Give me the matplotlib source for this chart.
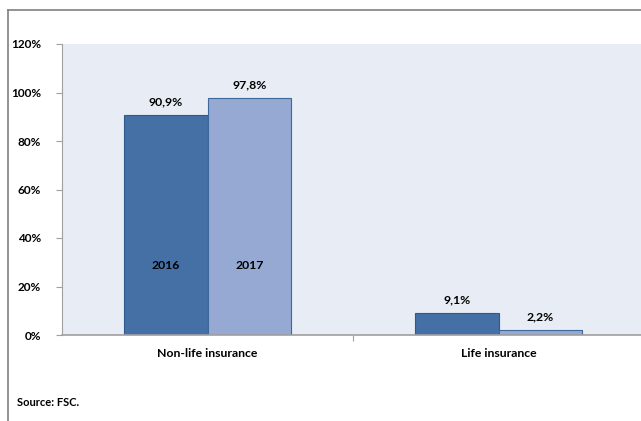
import matplotlib.pyplot as plt
from matplotlib.lines import Line2D

categories = ["Non-life insurance", "Life insurance"]
years = ["2016", "2017"]
values_2016 = [90.9, 9.1]
values_2017 = [97.8, 2.2]
labels_2016 = ["90,9%", "9,1%"]
labels_2017 = ["97,8%", "2,2%"]
yticks = [0, 20, 40, 60, 80, 100, 120]

plt.rcParams['font.family'] = ['Lato', 'DejaVu Sans']
plt.rcParams['font.weight'] = 'bold'

fig = plt.figure(figsize=(6.41, 4.21), dpi=100)
ax = fig.add_axes([62/641, 1 - 335/421, 1 - 62/641, 291/421])
ax.set_facecolor('#E8ECF4')

w = 0.287
x = range(len(categories))
b1 = ax.bar([i - w/2 for i in x], values_2016, w, color='#4470A5', edgecolor='#2E5A8E', linewidth=0.8)
b2 = ax.bar([i + w/2 for i in x], values_2017, w, color='#95A9D2', edgecolor='#3E679C', linewidth=0.8)

for r, t in zip(b1, labels_2016):
    ax.text(r.get_x() + r.get_width()/2, r.get_height() + 3, t, ha='center', va='bottom', fontsize=8.8, fontweight='bold')
for r, t in zip(b2, labels_2017):
    ax.text(r.get_x() + r.get_width()/2, r.get_height() + 3, t, ha='center', va='bottom', fontsize=8.8, fontweight='bold')

# year labels inside the first group
ax.text(b1[0].get_x() + w/2, 28.5, years[0], ha='center', va='center', fontsize=8.8, fontweight='bold')
ax.text(b2[0].get_x() + w/2, 28.5, years[1], ha='center', va='center', fontsize=8.8, fontweight='bold')

ax.set_xlim(-0.5, -0.5 + 579/291)
ax.set_ylim(0, 120)
ax.set_yticks(yticks)
ax.set_yticklabels([f"{v}%" for v in yticks], fontsize=8.5, fontweight='bold')
ax.set_xticks([0.5])
ax.set_xticklabels([""])
ax.tick_params(axis='y', length=4, color='#A0A0A0', pad=11)
ax.tick_params(axis='x', length=4, color='#A0A0A0')
for i, c in enumerate(categories):
    ax.text(i, -7.5, c, ha='center', va='center', fontsize=8.8, fontweight='bold')

for s in ['top', 'right']:
    ax.spines[s].set_visible(False)
ax.spines['left'].set_color('#A0A0A0')
ax.spines['bottom'].set_color('#A0A0A0')
ax.spines['bottom'].set_linewidth(1.2)

# outer frame
fig.add_artist(Line2D([8/641, 1], [1 - 9.5/421, 1 - 9.5/421], color='#808080', lw=1.2))
fig.add_artist(Line2D([8/641, 8/641], [0, 1 - 9.5/421], color='#808080', lw=1.2))

fig.text(17/641, 1 - 403/421, "Source: FSC.", fontsize=8, fontweight='bold', va='center')

fig.savefig('out.png', dpi=100)
